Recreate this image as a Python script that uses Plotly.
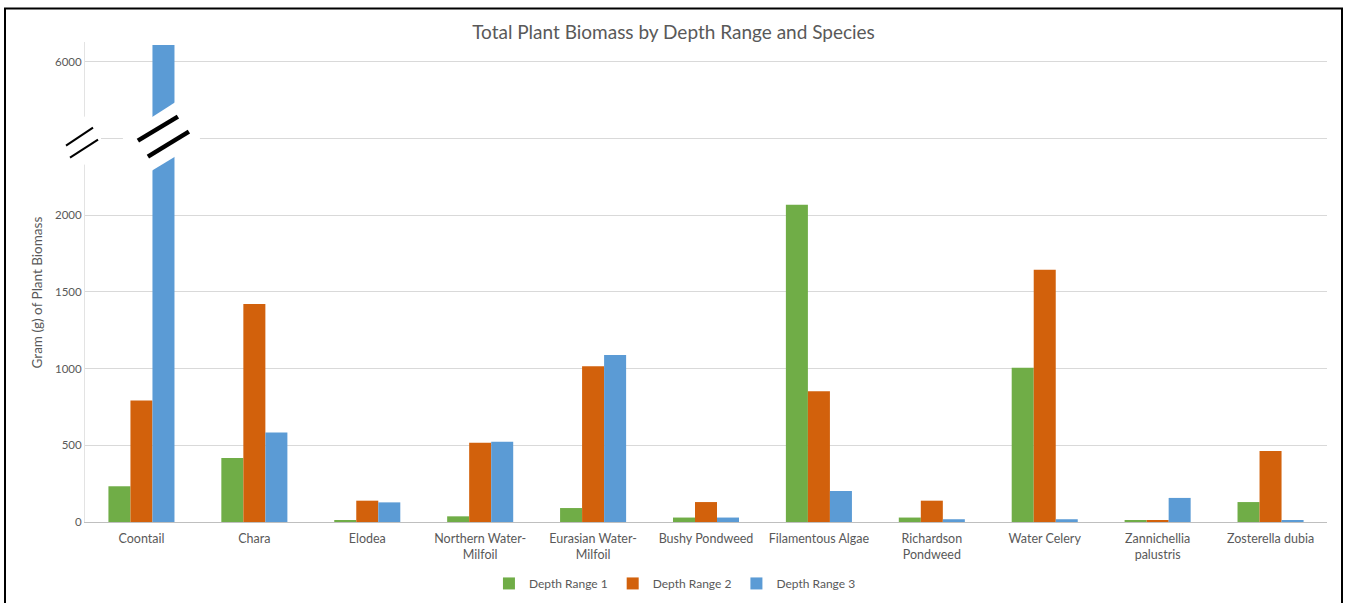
import plotly.graph_objects as go

# Species (x categories) and biomass per depth range, in grams
species = [
    "Coontail", "Chara", "Elodea", "Northern Water-<br>Milfoil",
    "Eurasian Water-<br>Milfoil", "Bushy Pondweed", "Filamentous Algae",
    "Richardson<br>Pondweed", "Water Celery", "Zannichellia<br>palustris",
    "Zosterella dubia",
]
depth1 = [233, 417, 10, 37, 91, 29, 2069, 29, 1006, 9, 130]
depth2 = [793, 1421, 139, 517, 1015, 130, 852, 139, 1645, 9, 463]
depth3 = [6110, 583, 128, 524, 1089, 29, 202, 18, 18, 157, 9]

series_names = ["Depth Range 1", "Depth Range 2", "Depth Range 3"]
series_colors = ["#70AD47", "#D2610C", "#5B9BD5"]

# Broken value axis: everything above 2500 is shifted down by 3000,
# so the 6000 level sits one gridline above the break.
BREAK_AT = 2500
SHIFT = 3000
tick_vals = [0, 500, 1000, 1500, 2000, 2500, 3000]
tick_text = ["0", "500", "1000", "1500", "2000", "", "6000"]
y_top = 3130


def to_axis(v):
    return v - SHIFT if v > BREAK_AT + SHIFT else v


fig = go.Figure()
for name, vals, col in zip(series_names, [depth1, depth2, depth3], series_colors):
    fig.add_trace(go.Bar(
        name=name, x=species, y=[to_axis(v) for v in vals],
        customdata=vals, hovertemplate="%{x}: %{customdata}<extra>" + name + "</extra>",
        marker=dict(color=col, line=dict(width=0)),
    ))

# geometry helpers for the break marks (plot area is 1242 x 480 px)
PLOT_W = 1242.0
PLOT_H = 480.2
PX_PER_CAT = PLOT_W / len(species)
UNITS_PER_PX = y_top / PLOT_H


def cat_pt(cat_idx, cat_off, dx, dy):
    """point at a category position, offset in pixels (dy downward)"""
    return cat_idx + cat_off + dx / PX_PER_CAT, BREAK_AT - dy * UNITS_PER_PX


def path(points):
    return "M " + " L ".join(f"{x},{y}" for x, y in points) + " Z"


shapes = []

# break across the tall Coontail bar (third bar of the first group)
bar_off = 0.19
shapes.append(dict(type="path", xref="x", yref="y", layer="above",
                   path=path([cat_pt(0, bar_off, -40, -4), cat_pt(0, bar_off, 37, -4),
                              cat_pt(0, bar_off, 37, 4), cat_pt(0, bar_off, -40, 4)]),
                   fillcolor="white", line=dict(width=0)))
shapes.append(dict(type="path", xref="x", yref="y", layer="above",
                   path=path([cat_pt(0, bar_off, -24, -13), cat_pt(0, bar_off, 24, -44),
                              cat_pt(0, bar_off, 24, 11), cat_pt(0, bar_off, -24, 40)]),
                   fillcolor="white", line=dict(width=0)))
for (dx0, dy0, dx1, dy1) in [(-25, 2, 15, -22), (-15, 18, 26, -7)]:
    x0, y0 = cat_pt(0, bar_off, dx0, dy0)
    x1, y1 = cat_pt(0, bar_off, dx1, dy1)
    shapes.append(dict(type="line", xref="x", yref="y", layer="above",
                       x0=x0, y0=y0, x1=x1, y1=y1,
                       line=dict(color="black", width=4.5)))

# break on the value axis itself
def ax_pt(dx, dy):
    return dx / PLOT_W, BREAK_AT - dy * UNITS_PER_PX


shapes.append(dict(type="path", xref="paper", yref="y", layer="above",
                   path=path([ax_pt(-3, -22), ax_pt(16, -22), ax_pt(16, 26), ax_pt(-3, 26)]),
                   fillcolor="white", line=dict(width=0)))
for (dx0, dy0, dx1, dy1) in [(-19, 7, 8, -11), (-15, 19, 13, 1)]:
    x0, y0 = ax_pt(dx0, dy0)
    x1, y1 = ax_pt(dx1, dy1)
    shapes.append(dict(type="line", xref="paper", yref="y", layer="above",
                       x0=x0, y0=y0, x1=x1, y1=y1,
                       line=dict(color="black", width=2)))

# chart frame
shapes.append(dict(type="rect", xref="paper", yref="paper",
                   x0=-80 / PLOT_W, x1=1257 / PLOT_W,
                   y0=-90 / PLOT_H, y1=513.7 / PLOT_H,
                   line=dict(color="black", width=2), fillcolor="rgba(0,0,0,0)"))

FONT = "Lato, 'Open Sans', sans-serif"
TXT = "#595959"

fig.update_layout(
    width=1347, height=603,
    margin=dict(l=85, r=20, t=41.5, b=81.3, autoexpand=False),
    paper_bgcolor="white", plot_bgcolor="white",
    font=dict(family=FONT, size=11, color=TXT),
    title=dict(text="Total Plant Biomass by Depth Range and Species",
               x=0.5, xanchor="center", y=1 - 32 / 603, yanchor="middle",
               font=dict(family=FONT, size=19, color=TXT)),
    barmode="group", bargap=0.415, bargroupgap=0,
    xaxis=dict(showgrid=False, showline=True, linecolor="#BFBFBF", linewidth=1,
               ticks="", ticklabelstandoff=5,
               tickfont=dict(size=12.5, color=TXT), fixedrange=True),
    yaxis=dict(range=[0, y_top], tickvals=tick_vals, ticktext=tick_text,
               showgrid=True, gridcolor="#D9D9D9", gridwidth=1,
               zeroline=False, showline=True, linecolor="#E3E3E3", linewidth=1,
               ticks="", tickfont=dict(size=11.5, color=TXT), fixedrange=True),
    legend=dict(orientation="h", x=0.475, xanchor="center", y=-0.128, yanchor="middle",
                font=dict(size=12, color=TXT), itemwidth=30,
                bgcolor="rgba(0,0,0,0)"),
    shapes=shapes,
    annotations=[dict(text="Gram (g) of Plant Biomass", textangle=-90,
                      xref="paper", yref="paper", x=(37 - 85) / PLOT_W,
                      y=(521.7 - 292) / PLOT_H, xanchor="center", yanchor="middle",
                      showarrow=False, font=dict(size=13.5, color=TXT))],
)

fig.write_html("out.html")
